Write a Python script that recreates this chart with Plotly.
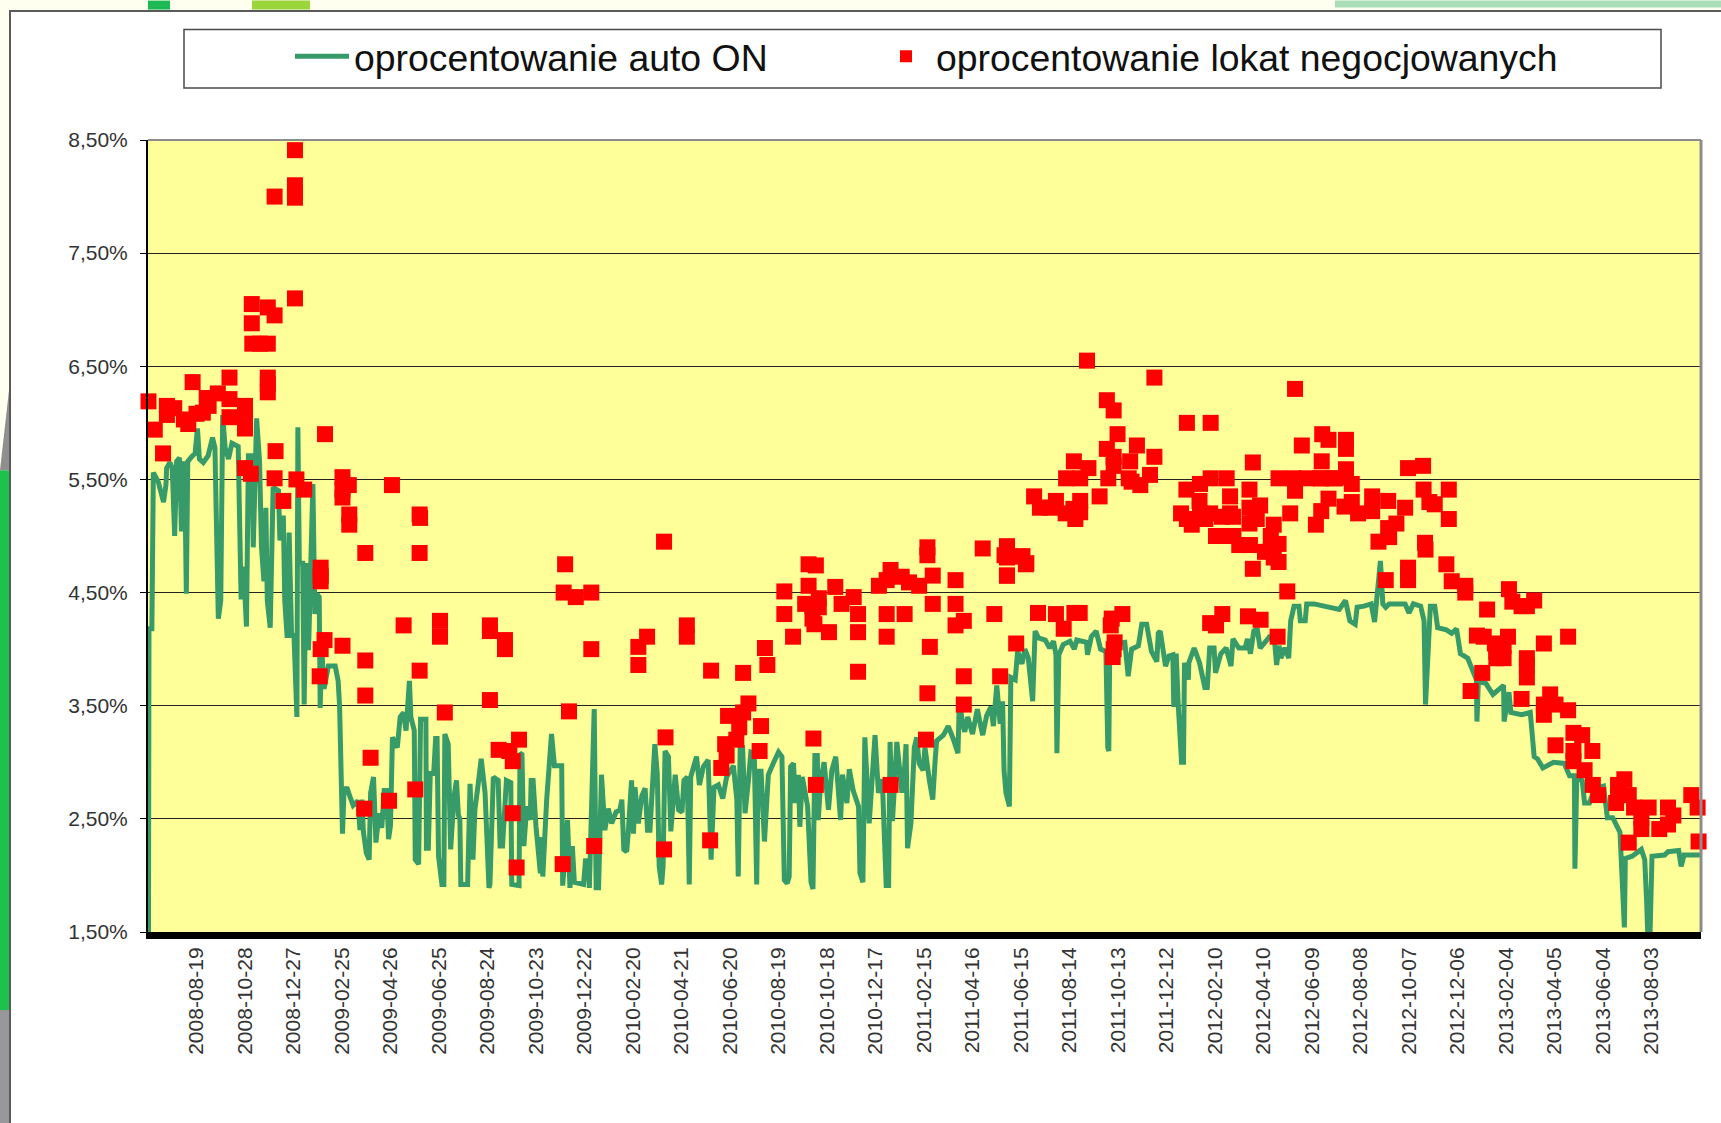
import plotly.graph_objects as go

tick_labels = ["2008-08-19","2008-10-28","2008-12-27","2009-02-25","2009-04-26","2009-06-25","2009-08-24","2009-10-23","2009-12-22","2010-02-20","2010-04-21","2010-06-20","2010-08-19","2010-10-18","2010-12-17","2011-02-15","2011-04-16","2011-06-15","2011-08-14","2011-10-13","2011-12-12","2012-02-10","2012-04-10","2012-06-09","2012-08-08","2012-10-07","2012-12-06","2013-02-04","2013-04-05","2013-06-04","2013-08-03"]
y_ticks = [1.5,2.5,3.5,4.5,5.5,6.5,7.5,8.5]
y_labels = ["1,50%","2,50%","3,50%","4,50%","5,50%","6,50%","7,50%","8,50%"]

# position along the date axis, in units of one labelled tick interval
auto_pos = [-0.99,-0.98,-0.92,-0.89,-0.79,-0.68,-0.63,-0.615,-0.55,-0.50,-0.45,-0.41,-0.35,-0.31,-0.27,-0.24,-0.21,-0.18,-0.10,-0.03,0.02,0.06,0.14,0.24,0.33,0.38,0.45,0.50,0.54,0.59,0.66,0.73,0.86,0.92,0.97,1.03,1.07,1.14,1.17,1.24,1.30,1.34,1.39,1.43,1.46,1.52,1.58,1.69,1.72,1.79,1.82,1.87,1.91,1.96,2.01,2.07,2.09,2.12,2.19,2.22,2.26,2.31,2.40,2.44,2.48,2.53,2.55,2.58,2.63,2.72,2.86,2.92,2.95,3.01,3.04,3.10,3.16,3.23,3.33,3.37,3.41,3.44,3.50,3.56,3.59,3.65,3.70,3.76,3.82,3.87,3.92,3.96,4.00,4.04,4.14,4.20,4.27,4.32,4.39,4.42,4.49,4.51,4.58,4.62,4.73,4.74,4.78,4.82,4.89,4.93,4.96,4.99,5.06,5.10,5.12,5.19,5.24,5.31,5.36,5.40,5.43,5.45,5.59,5.64,5.70,5.74,5.80,5.87,5.95,6.03,6.05,6.12,6.22,6.26,6.31,6.39,6.48,6.50,6.65,6.67,6.71,6.75,6.81,6.88,6.90,6.94,7.00,7.09,7.12,7.14,7.22,7.32,7.38,7.53,7.55,7.65,7.70,7.75,7.79,7.98,8.02,8.07,8.10,8.20,8.24,8.29,8.35,8.42,8.49,8.56,8.65,8.73,8.77,8.81,8.87,8.90,8.97,9.01,9.04,9.11,9.18,9.25,9.30,9.35,9.40,9.45,9.50,9.54,9.59,9.62,9.66,9.73,9.78,9.87,9.94,10.01,10.05,10.12,10.16,10.19,10.25,10.31,10.37,10.45,10.55,10.61,10.67,10.76,10.85,10.93,11.07,11.14,11.17,11.21,11.26,11.31,11.38,11.43,11.50,11.55,11.58,11.64,11.71,11.79,11.89,12.00,12.07,12.12,12.18,12.22,12.25,12.31,12.34,12.41,12.44,12.49,12.55,12.60,12.67,12.71,12.75,12.80,12.82,12.87,12.94,13.03,13.10,13.18,13.28,13.32,13.41,13.46,13.54,13.65,13.68,13.74,13.78,13.87,13.99,14.06,14.14,14.22,14.27,14.30,14.35,14.44,14.54,14.57,14.63,14.66,14.73,14.80,14.85,14.90,14.98,15.02,15.11,15.18,15.23,15.26,15.40,15.50,15.60,15.70,15.73,15.79,15.84,15.90,16.00,16.10,16.15,16.21,16.29,16.38,16.43,16.50,16.57,16.62,16.65,16.69,16.76,16.79,16.88,16.93,17.02,17.08,17.15,17.24,17.29,17.36,17.50,17.59,17.67,17.72,17.74,17.78,17.87,18.01,18.10,18.15,18.35,18.37,18.45,18.55,18.64,18.75,18.79,18.81,18.83,19.14,19.21,19.28,19.42,19.49,19.59,19.69,19.80,19.83,19.87,19.98,20.05,20.13,20.15,20.20,20.24,20.31,20.35,20.37,20.45,20.46,20.57,20.68,20.79,20.84,20.89,20.98,21.01,21.12,21.23,21.33,21.37,21.49,21.62,21.67,21.73,21.80,21.87,21.93,22.05,22.12,22.22,22.27,22.32,22.36,22.44,22.52,22.56,22.63,22.73,22.76,22.86,22.89,23.04,23.30,23.56,23.69,23.78,23.89,23.93,24.07,24.22,24.29,24.35,24.41,24.46,24.52,24.59,24.92,25.00,25.09,25.24,25.31,25.34,25.40,25.44,25.53,25.59,25.77,25.88,25.98,26.06,26.21,26.32,26.39,26.40,26.43,26.58,26.73,26.95,26.96,27.06,27.10,27.32,27.50,27.58,27.65,27.76,27.98,28.20,28.31,28.41,28.42,28.46,28.57,28.62,28.72,28.83,29.01,29.09,29.20,29.35,29.44,29.46,29.60,29.79,29.86,29.90,29.92,29.97,30.01,30.27,30.34,30.56,30.61,30.67,31.00]
auto_rate = [1.50,4.18,4.18,5.56,5.48,5.30,5.45,5.60,5.65,5.60,5.00,5.66,5.69,5.04,5.66,5.50,4.49,5.66,5.70,5.73,5.95,5.68,5.65,5.71,5.87,5.78,4.27,4.43,6.07,5.78,5.68,5.82,5.79,4.44,4.73,4.20,5.71,5.71,4.90,6.04,5.66,4.90,4.60,5.25,4.43,4.19,5.43,5.40,4.96,5.18,4.43,4.10,5.03,4.12,4.12,3.40,5.96,4.76,4.76,3.51,4.76,3.99,5.46,4.31,4.49,4.46,3.48,4.02,3.65,3.85,3.85,3.72,3.50,2.37,2.73,2.78,2.70,2.62,2.66,2.40,2.67,2.39,2.20,2.14,2.73,2.87,2.29,2.55,2.42,2.75,2.75,2.32,2.44,3.22,3.13,3.40,3.44,3.28,3.72,3.40,3.28,2.14,2.10,3.38,3.38,2.24,2.24,2.90,2.90,3.21,3.21,2.17,1.92,1.92,3.25,3.16,2.23,2.70,2.84,2.53,2.50,1.92,1.92,2.81,2.14,2.58,2.78,3.03,2.73,1.89,1.92,2.87,2.84,2.26,2.26,2.84,2.82,1.92,1.91,3.08,3.07,2.26,2.61,2.49,2.84,2.84,2.43,2.02,2.34,1.99,2.67,3.25,2.97,2.97,1.91,2.49,1.89,2.26,1.94,1.92,2.13,2.13,1.89,3.47,1.89,1.89,2.89,2.40,2.59,2.46,2.56,2.58,2.67,2.23,2.21,2.37,2.84,2.37,2.78,2.46,2.70,2.77,2.40,2.40,2.85,3.16,2.90,2.08,1.92,2.08,3.10,3.05,2.39,2.89,2.58,2.56,2.84,2.87,1.92,2.87,2.96,3.05,2.80,2.96,3.02,2.14,2.78,2.80,2.68,2.87,2.97,2.67,1.99,3.13,3.13,2.55,2.84,3.09,3.08,1.92,2.92,2.92,2.30,2.89,2.99,3.09,3.05,1.96,1.93,1.99,2.96,2.99,2.64,2.89,2.43,2.87,2.73,2.61,1.94,1.88,3.06,3.06,2.49,2.84,3.00,2.58,2.93,3.05,2.49,2.89,2.64,2.94,2.75,2.61,2.02,1.94,3.22,2.46,3.24,2.73,2.85,1.91,1.91,3.18,2.48,3.18,2.75,2.75,3.16,2.24,2.46,3.13,3.22,2.99,2.93,3.13,2.84,2.67,3.02,3.19,3.24,3.32,3.21,3.08,3.57,3.35,3.27,3.40,3.25,3.47,3.36,3.24,3.41,3.49,3.32,3.68,3.34,3.54,2.93,2.73,2.61,3.75,3.73,3.98,3.87,4.00,3.92,3.54,4.16,4.10,4.08,4.01,4.07,3.95,3.08,3.95,4.04,4.07,4.00,4.08,4.06,3.95,4.11,4.16,4.00,3.98,3.13,3.10,4.04,4.06,3.76,4.00,4.03,4.22,4.22,3.98,3.89,4.14,4.16,3.85,3.94,3.95,3.49,3.96,3.52,3.00,3.00,3.88,3.73,3.88,4.01,3.88,3.66,3.66,4.01,4.01,3.79,3.96,4.01,3.85,4.09,4.01,4.01,4.09,3.96,4.16,4.18,4.01,4.07,4.11,4.11,3.86,4.03,3.92,4.01,3.92,4.25,4.38,4.38,4.25,4.25,4.40,4.40,4.37,4.35,4.43,4.25,4.22,4.37,4.38,4.40,4.24,4.48,4.78,4.40,4.37,4.40,4.40,4.32,4.40,4.38,4.25,3.51,4.07,4.38,4.38,4.19,4.17,4.14,4.18,3.96,3.92,3.81,3.73,3.36,3.71,3.70,3.60,3.68,3.36,3.62,3.44,3.42,3.44,3.05,3.03,2.95,3.00,2.99,2.88,2.88,2.06,2.88,2.84,2.64,2.64,2.77,2.79,2.51,2.51,2.38,1.54,2.15,2.17,2.23,2.14,1.76,1.50,1.50,2.17,2.18,2.21,2.22,2.08,2.18,2.18]

# negotiated deposit rates
deposit_pos = [-0.99,-0.86,-0.69,-0.61,-0.61,-0.46,-0.26,-0.17,-0.08,0.00,0.13,0.21,0.25,0.44,0.68,0.68,0.68,1.00,1.00,1.00,1.00,1.12,1.61,1.63,1.79,2.06,2.22,2.65,3.01,3.14,3.01,3.15,3.15,3.01,4.03,1.14,1.47,1.61,1.14,1.15,1.31,1.47,1.47,1.47,1.47,2.03,2.03,2.03,2.03,2.03,1.61,4.60,4.61,3.48,4.60,2.56,2.56,2.56,4.27,2.64,2.56,3.01,3.48,2.54,3.48,4.60,5.02,5.02,5.12,3.59,3.46,3.97,4.51,6.05,6.05,6.36,6.36,6.05,6.23,6.45,6.52,6.65,6.52,6.60,7.55,7.60,7.57,7.82,8.14,8.14,7.68,8.20,
9.11,9.11,9.29,9.64,9.64,10.11,10.11,10.61,10.59,9.67,11.27,11.72,11.77,11.38,11.27,10.96,11.19,10.90,11.13,10.93,10.82,11.64,11.61,12.12,12.12,12.30,12.62,12.77,12.62,12.55,12.83,12.83,12.70,12.70,12.74,13.04,13.17,13.30,13.55,13.64,13.64,13.64,12.72,12.77,14.07,14.23,14.31,14.23,14.23,14.31,14.54,14.60,14.69,14.90,15.07,15.07,15.18,15.18,15.12,15.07,15.04,15.65,15.65,15.65,15.82,15.82,15.82,16.21,16.45,16.57,16.66,16.71,16.71,17.03,17.10,
18.36,19.75,22.65,18.77,18.91,18.99,20.42,20.91,19.39,22.79,23.21,23.34,18.77,19.75,18.91,19.25,21.78,18.09,18.39,23.20,19.66,18.91,18.80,17.93,18.22,19.22,19.28,19.46,20.91,21.24,20.69,20.41,21.71,21.31,22.31,22.62,23.17,23.44,22.65,17.27,23.34,17.39,17.60,17.72,18.62,18.22,17.92,18.08,18.12,18.22,20.68,20.30,20.42,20.52,20.69,20.90,20.80,21.14,21.31,21.37,21.71,21.93,21.83,21.71,21.86,22.55,22.21,23.19,23.08,22.15,21.02,21.24,21.38,21.50,21.72,22.03,22.31,22.21,22.31,21.78,22.49,16.71,16.71,17.02,17.11,16.71,17.35,17.72,17.88,18.10,18.21,16.90,18.85,18.87,19.09,18.93,18.91,18.89,20.90,21.02,21.15,21.68,21.94,22.29,
22.89,23.19,23.48,23.70,23.70,23.70,23.70,23.82,23.67,23.82,23.95,24.24,24.24,24.57,24.92,24.74,24.57,24.59,24.37,24.52,24.98,24.98,24.98,24.98,25.29,25.30,25.42,25.53,25.82,25.82,25.33,25.34,25.77,25.88,26.16,26.16,26.61,27.06,27.13,27.32,27.58,27.43,26.40,26.54,27.04,26.77,26.95,26.80,26.95,26.80,27.78,28.28,27.43,27.43,27.43,26.51,26.27,27.32,27.91,27.78,27.78,28.02,28.28,28.02,28.39,28.57,28.39,28.39,28.78,28.62,28.79,28.90,29.44,29.31,29.31,29.27,29.53,29.64,29.94,29.79,29.79,29.53,30.16,30.34,30.45,30.34,30.82,30.95,30.97]
deposit_rate = [6.19,5.94,5.73,6.15,6.07,6.13,6.03,5.99,6.36,6.08,6.09,6.22,6.15,6.26,6.40,6.21,6.05,6.15,6.05,5.95,5.60,5.55,5.51,5.75,5.31,5.50,5.41,5.90,5.52,5.45,5.41,5.19,5.10,5.34,5.45,7.05,7.02,6.95,6.88,6.70,6.70,6.70,6.40,6.34,6.27,7.10,8.41,8.10,8.04,7.99,8.00,5.19,5.16,4.85,4.85,4.72,4.65,4.60,4.21,4.08,4.00,4.03,3.90,3.76,3.59,3.81,4.25,4.11,3.44,3.04,2.59,2.66,2.76,4.21,4.16,4.08,4.00,3.55,3.11,3.10,3.01,3.20,2.55,2.07,2.10,4.75,4.50,4.46,4.50,4.00,3.45,2.26,
4.02,3.86,4.11,4.95,2.23,4.21,4.11,3.81,2.31,3.22,3.79,4.01,3.86,3.52,3.44,3.41,3.31,3.16,3.20,3.06,2.95,3.32,3.10,4.51,4.31,4.11,4.75,4.74,4.56,4.40,4.45,4.37,4.38,4.27,4.22,4.15,4.55,4.40,4.46,4.31,4.15,3.80,3.21,2.80,4.56,4.61,4.70,4.31,4.11,2.80,4.64,4.31,4.59,4.56,4.90,4.83,4.65,4.40,4.02,3.61,3.20,4.61,4.40,4.21,4.25,3.76,3.51,4.89,4.31,3.76,4.83,4.90,4.65,4.82,4.75,
6.55,6.40,6.30,6.20,6.11,5.90,6.00,6.00,5.80,5.80,5.90,5.85,5.77,5.70,5.70,5.66,5.65,5.66,5.60,5.66,5.54,5.62,5.51,5.51,5.51,5.51,5.48,5.45,5.51,5.51,5.46,5.41,5.41,5.35,5.51,5.51,5.51,5.51,5.40,5.35,5.33,5.25,5.25,5.31,5.35,5.31,5.20,5.24,5.15,5.21,5.31,5.20,5.15,5.10,5.20,5.20,5.15,5.17,5.20,5.17,5.25,5.27,5.20,5.11,5.15,5.20,5.10,5.22,5.10,5.00,5.00,5.00,5.00,4.92,4.92,4.86,4.93,4.81,4.77,4.71,4.51,4.91,4.81,4.82,4.76,4.65,4.32,4.31,4.18,4.32,4.32,4.05,4.21,4.27,4.31,4.06,4.00,3.93,4.23,4.21,4.31,4.29,4.26,4.11,
5.51,5.51,5.51,5.85,5.77,5.59,5.52,5.46,5.26,5.30,5.20,5.35,5.22,5.31,5.25,5.11,5.07,4.99,4.95,4.61,5.60,4.72,4.66,4.61,5.62,5.41,5.30,5.28,5.41,5.15,4.94,4.88,4.75,4.60,4.56,4.50,4.35,4.53,4.42,4.38,4.43,4.38,4.12,4.11,4.11,4.05,4.03,3.92,3.92,3.98,4.05,4.11,3.92,3.85,3.75,3.79,3.63,3.56,3.60,3.51,3.42,3.51,3.46,3.15,3.26,3.24,3.10,3.01,3.10,2.93,2.80,2.71,2.85,2.80,2.71,2.64,2.71,2.60,2.60,2.51,2.41,2.29,2.41,2.60,2.53,2.45,2.71,2.60,2.30]

WIDTH, HEIGHT = 1721, 1123
L, R, T, B = 148, 1701, 139.5, 932
px = lambda x: (x - L) / (R - L)
py = lambda y: (B - y) / (B - T)

def rect(x0, y0, x1, y1, fill, line=None, lw=0, layer="below"):
    return dict(type="rect", xref="paper", yref="paper", x0=px(x0), y0=py(y0), x1=px(x1), y1=py(y1),
                fillcolor=fill, line=dict(color=line or fill, width=lw), layer=layer)

shapes = [
    rect(10, 10.5, 1725, 1130, "#FFFFFF", "#5A5A5A", 2),
    rect(L, T, R, B, "#FFFF99"),
    rect(148, 0, 170, 9, "#1DB954"),
    rect(252, 0, 310, 9, "#9AD53A"),
    rect(1335, 0, 1721, 7, "#A8DDB8"),
    rect(0, 470, 9, 1010, "#1CC24C"),
    rect(0, 1010, 9, 1123, "#98989C"),
    rect(184, 29, 1661, 87.5, "#FFFFFF", "#4A4A4A", 1.5),
    dict(type="path", xref="paper", yref="paper", layer="below",
         path=f"M {px(0)} {py(470)} L {px(9)} {py(390)} L {px(9)} {py(470)} Z",
         fillcolor="#8F8F8F", line=dict(width=0)),
    dict(type="line", xref="paper", yref="paper", x0=0, x1=1, y0=1, y1=1, line=dict(color="#8C8C8C", width=2), layer="above"),
    dict(type="line", xref="paper", yref="paper", x0=1, x1=1, y0=0, y1=1, line=dict(color="#8C8C8C", width=3), layer="above"),
]

fig = go.Figure()
fig.add_trace(go.Scatter(x=auto_pos, y=auto_rate, mode="lines", name="oprocentowanie auto ON",
                         line=dict(color="#369B69", width=5), cliponaxis=False, legend="legend"))
fig.add_trace(go.Scatter(x=deposit_pos, y=deposit_rate, mode="markers", name="oprocentowanie lokat negocjowanych",
                         marker=dict(symbol="square", color="#FF0000", size=16, line=dict(width=0)), cliponaxis=False,
                         legend="legend2"))

legend_font = dict(size=37.4, color="#111111")
fig.update_layout(
    width=WIDTH, height=HEIGHT, autosize=False,
    margin=dict(l=L, r=WIDTH - R, t=T, b=HEIGHT - B, pad=0),
    paper_bgcolor="#FFFFF0", plot_bgcolor="#FFFF99",
    font=dict(family="Liberation Sans, Arial, sans-serif", color="#222222"),
    shapes=shapes, hovermode=False, showlegend=True,
    legend=dict(orientation="h", xanchor="left", yanchor="middle", x=px(290), y=py(56),
                font=legend_font, bgcolor="rgba(0,0,0,0)", borderwidth=0, itemwidth=54),
    legend2=dict(orientation="h", xanchor="left", yanchor="middle", x=px(876), y=py(56),
                 font=legend_font, bgcolor="rgba(0,0,0,0)", borderwidth=0, itemwidth=50, itemsizing="constant"),
)
fig.update_xaxes(range=[-1, 31.02], tickmode="array", tickvals=list(range(len(tick_labels))), ticktext=tick_labels,
                 tickangle=-90, ticks="", showgrid=False, zeroline=False, showline=True,
                 linecolor="#000000", linewidth=7, tickfont=dict(size=21, color="#333333"))
fig.update_yaxes(range=[1.5, 8.5], tickmode="array", tickvals=y_ticks, ticktext=y_labels,
                 ticks="outside", ticklen=6, tickwidth=1, tickcolor="#000000", ticklabelstandoff=8,
                 showgrid=True, gridcolor="#222222", gridwidth=1, zeroline=False, showline=True,
                 linecolor="#000000", linewidth=2, tickfont=dict(size=21, color="#333333"))

fig.write_html("out.html", config=dict(displayModeBar=False),
               post_script="document.body.style.margin='0';document.body.style.overflow='hidden';")
